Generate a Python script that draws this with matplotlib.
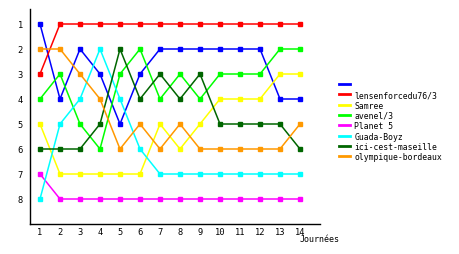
import matplotlib
matplotlib.use("Agg")
import matplotlib.pyplot as plt

journees = list(range(1, 15))
names = ["", "lensenforcedu76/3", "Samree", "avenel/3", "Planet 5",
         "Guada-Boyz", "ici-cest-maseille", "olympique-bordeaux"]
colors = ["#0000ff", "#ff0000", "#ffff00", "#00ff00", "#ff00ff",
          "#00ffff", "#006600", "#ff9900"]
blue = [1, 4, 2, 3, 5, 3, 2, 2, 2, 2, 2, 2, 4, 4]
red = [3, 1, 1, 1, 1, 1, 1, 1, 1, 1, 1, 1, 1, 1]
yellow = [5, 7, 7, 7, 7, 7, 5, 6, 5, 4, 4, 4, 3, 3]
green = [4, 3, 5, 6, 3, 2, 4, 3, 4, 3, 3, 3, 2, 2]
magenta = [7, 8, 8, 8, 8, 8, 8, 8, 8, 8, 8, 8, 8, 8]
cyan = [8, 5, 4, 2, 4, 6, 7, 7, 7, 7, 7, 7, 7, 7]
darkgreen = [6, 6, 6, 5, 2, 4, 3, 4, 3, 5, 5, 5, 5, 6]
orange = [2, 2, 3, 4, 6, 5, 6, 5, 6, 6, 6, 6, 6, 5]
series = [blue, red, yellow, green, magenta, cyan, darkgreen, orange]

plt.rcParams['font.family'] = ['DejaVu Sans Mono']
fig = plt.figure(figsize=(4.6, 2.55), dpi=100)
ax = fig.add_axes([30/460, 30/255, 290/460, 215/255])

for vals, c in zip(series, colors):
    ax.plot(journees, vals, color=c, lw=1.1, marker='s', ms=2.2,
            mec=c, mfc=c, solid_joinstyle='miter')

ax.set_xlim(0.5, 15.0)
ax.set_ylim(9.0, 0.4)
ax.set_xticks(journees)
ax.set_yticks(range(1, 9))
ax.tick_params(axis='x', length=0, labelsize=6.3, pad=2)
ax.tick_params(axis='y', length=0, labelsize=6.3, pad=5)
for s in ['top', 'right']:
    ax.spines[s].set_visible(False)
for s in ['left', 'bottom']:
    ax.spines[s].set_linewidth(1.0)

fig.text(300/460, 1 - 240/255, "Journées", fontsize=6.0, va='center', ha='left')

leg_handles = [plt.Line2D([], [], color=c, lw=2) for c in colors]
fig.legend(leg_handles, names, loc='upper left',
           bbox_to_anchor=(339/460, 1 - 81/255), frameon=False,
           fontsize=5.9, handlelength=1.35, handletextpad=0.5,
           labelspacing=0.16, borderpad=0, borderaxespad=0)

fig.savefig("out.png", dpi=100)
